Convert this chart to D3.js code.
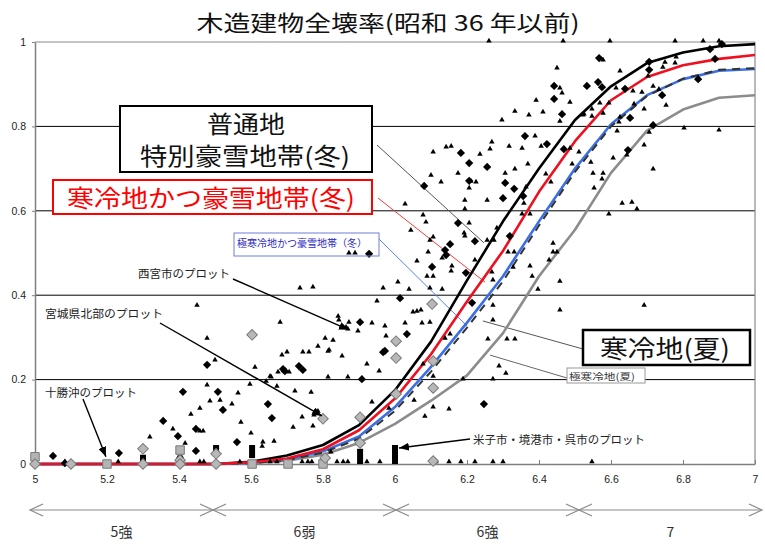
<!DOCTYPE html>
<html><head><meta charset="utf-8">
<script src="https://cdn.jsdelivr.net/npm/d3@7"></script>
<style>body{margin:0;background:#fff;} svg{display:block;}</style>
</head><body>
<script>
// ---------- data ----------
const magnitudes = [5.0,5.1,5.2,5.3,5.4,5.5,5.6,5.7,5.8,5.9,6.0,6.1,6.2,6.3,6.4,6.5,6.6,6.7,6.8,6.9,7.0];
const futsuchi      = [0,0,0,0,0,0,0.005,0.02,0.045,0.092,0.175,0.29,0.435,0.575,0.70,0.815,0.895,0.95,0.975,0.99,0.995];
const kanreiGosetsu = [0,0,0,0,0,0,0.004,0.013,0.035,0.08,0.155,0.26,0.385,0.505,0.645,0.765,0.862,0.917,0.945,0.96,0.969];
const gokanreiGosetsu=[0,0,0,0,0,0,0.003,0.01,0.03,0.065,0.135,0.23,0.335,0.445,0.575,0.70,0.805,0.874,0.912,0.932,0.936];
const kanreiNatsu   = [0,0,0,0,0,0,0.002,0.009,0.027,0.06,0.126,0.219,0.323,0.433,0.565,0.692,0.80,0.872,0.913,0.934,0.938];
const gokanreiNatsu = [0,0,0,0,0,0,0.002,0.008,0.022,0.05,0.095,0.15,0.21,0.31,0.445,0.555,0.69,0.79,0.84,0.868,0.874];

const xTicks = [5,5.2,5.4,5.6,5.8,6,6.2,6.4,6.6,6.8,7];
const xTickLabels = ["5","5.2","5.4","5.6","5.8","6","6.2","6.4","6.6","6.8","7"];
const yTicks = [0,0.2,0.4,0.6,0.8,1];
const yTickLabels = ["0","0.2","0.4","0.6","0.8","1"];
const bandEdges = [5.0,5.5,6.0,6.5,7.0];
const bandLabels = ["5強","6弱","6強","7"];

const triangles = [
[6.261,1],[6.467,1],[6.597,1],[6.778,1],[6.856,1],[6.900,1],
[6.45,0.936],[6.458,0.889],[6.464,0.877],[6.392,0.86],[6.486,0.855],[6.333,0.834],[6.372,0.825],[6.411,0.832],[6.297,0.813],[6.458,0.81],[6.522,0.825],[6.389,0.775],[6.269,0.761],[6.106,0.737],[6.142,0.749],[6.156,0.751],[6.264,0.744],[6.317,0.751],[6.353,0.746],[6.406,0.751],[6.236,0.732],[6.369,0.709],[6.333,0.697],[6.175,0.687],[6.306,0.687],[6.419,0.685],[6.486,0.746],[6.511,0.737],[6.492,0.709],[6.1,0.682],[6.128,0.666],[6.211,0.668],[6.225,0.666],[6.206,0.652],[6.364,0.654],[6.433,0.666],[6.256,0.623],[6.194,0.623],[6.028,0.614],[6.358,0.616],[6.353,0.59],[6.375,0.59],[6.078,0.588],[6.086,0.571],[6.194,0.602],[6.044,0.552],[6.206,0.569],[6.192,0.545],[6.194,0.538],[6.106,0.536],[6.097,0.528],[6.256,0.528],[6.275,0.528],[6.283,0.557],[6.092,0.5],[6.314,0.5],[6.331,0.5],[6.439,0.521],[6.439,0.5],[6.45,0.5],
[6.578,0.955],[6.625,0.929],[6.75,0.95],[6.778,0.948],[6.744,0.938],[6.781,0.962],[6.703,0.917],[6.614,0.889],[6.661,0.882],[6.717,0.893],[6.733,0.886],[6.753,0.848],[6.692,0.839],[6.664,0.851],[6.625,0.82],[6.706,0.784],[6.803,0.794],[6.9,0.789],[6.606,0.723],[6.692,0.754],[6.717,0.697],[6.544,0.713],[6.55,0.687],[6.578,0.687],[6.575,0.673],[6.686,0.879],[6.569,0.853],[6.594,0.853],[6.547,0.839],[6.525,0.827],[6.547,0.822],[6.578,0.829],[6.622,0.808],[6.617,0.787],[6.644,0.73],[6.553,0.652],[6.631,0.616],[6.658,0.618],[6.672,0.602],[6.594,0.59],
[6.131,0.486],[6.061,0.479],[6.222,0.481],[6.428,0.481],[6.158,0.467],[6.156,0.455],[6.089,0.443],[6.106,0.443],[6.269,0.453],[6.328,0.464],[6.375,0.467],[6.381,0.443],[6.458,0.431],[5.967,0.415],[6.039,0.412],[6.097,0.415],[6.131,0.412],[6.272,0.434],[6.397,0.412],[6.05,0.358],[6.061,0.36],[6.072,0.363],[6.028,0.332],[6.075,0.332],[6.097,0.334],[5.972,0.325],[6.458,0.363],[6.692,0.374],[6.272,0.374],[6.272,0.339],[5.975,0.301],[5.872,0.498],[5.889,0.498],[5.736,0.415],[5.772,0.417],[6.008,0.429],[5.95,0.384],[5.842,0.348],[5.844,0.339],[5.872,0.334],[5.897,0.313],[5.936,0.332],[5.828,0.291],[5.786,0.277],[5.817,0.268],[5.853,0.254],[5.744,0.263],[5.761,0.263],[5.922,0.235],[5.956,0.218],[5.814,0.204],[5.869,0.204],[5.722,0.171],[5.767,0.168],[6.078,0.235],[6.106,0.206],[6.139,0.296],[6.153,0.306],[5.936,0.145],[5.983,0.13],[6.053,0.149],[6.189,0.199],[6.15,0.128],[5.775,0.114],[5.717,0.085],[5.772,0.088],[5.822,0.026],[6.083,0.111],[6.106,0.133],
[6.258,0.294],[6.311,0.294],[6.333,0.294],[6.289,0.23],[6.308,0.213],[6.272,0.199],
[5.45,0.374],[5.478,0.296],[5.681,0.334],[5.5,0.244],[5.611,0.227],[5.686,0.256],[5.7,0.263],[5.675,0.216],[5.706,0.216],[5.656,0.204],[5.478,0.185],[5.514,0.149],[5.486,0.147],[5.564,0.166],[5.597,0.187],[5.672,0.182],[5.458,0.13],[5.433,0.116],[5.572,0.097],[5.458,0.076],[5.467,0.076],[5.383,0.081],[5.319,0.062],[5.633,0.05],[5.664,0.052],[5.417,0.047],[5.547,0.14],[5.6,0.071],[5.631,0.04],[5.642,0.194],[5.653,0.206],[5.786,0.123],[5.742,0.109],[5.806,0.296],[5.814,0.265],[5.869,0.318],[5.864,0.322],
[5.083,0.003],[5.231,0.003],[5.458,0.003],[5.469,0.003],[5.569,0.003],[5.653,0.003],[5.672,0.003],[5.742,0.003],[5.758,0.003],[5.769,0.003],[5.839,0.003],[5.856,0.003],[5.869,0.003],[5.922,0.003],[5.958,0.003],[6.114,0.003],[6.15,0.003],[6.183,0.003],[6.222,0.003],[6.272,0.003],[6.3,0.003],[6.547,0.003]
];
const blackDiamonds = [
[6.442,0.896],[6.442,0.865],[6.533,0.896],[6.464,0.829],[6.361,0.777],[6.422,0.758],[6.469,0.746],[6.183,0.737],[6.206,0.713],[6.256,0.704],[6.206,0.671],[6.306,0.666],[6.331,0.652],[6.081,0.659],[6.356,0.635],[6.3,0.63],[6.175,0.571],[6.153,0.521],[6.222,0.528],[6.319,0.54],[6.139,0.507],[6.142,0.495],[6.908,0.995],[6.875,0.983],[6.567,0.962],[6.706,0.953],[6.706,0.934],[6.564,0.905],[6.575,0.893],[6.639,0.889],[6.742,0.874],[6.842,0.912],[6.653,0.82],[6.717,0.803],[6.647,0.744],[6.889,0.96],[6.103,0.467],[6.197,0.453],[6.014,0.393],[6.033,0.308],[6.214,0.382],[5.928,0.498],[5.903,0.336],[5.972,0.268],[5.733,0.232],[5.744,0.223],[5.908,0.201],[6.247,0.142],[5.478,0.235],[5.689,0.225],[5.694,0.22],[5.411,0.171],[5.508,0.171],[5.647,0.142],[5.522,0.128],[5.658,0.109],[5.356,0.102],[5.447,0.083],[5.397,0.066],[5.561,0.052],[5.447,0.031],[5.233,0.026],[5.05,0.019],[5.083,0.002],[5.967,0.265],[5.403,0.014]
];
const grayDiamonds = [
[5.603,0.306],[6.103,0.379],[6.003,0.291],[6.003,0.251],[6.106,0.244],[6.003,0.166],[6.106,0.18],[5.8,0.107],[5.903,0.111],[5.903,0.05],[5.806,0.014],[6.106,0.007],[5.0,0],[5.1,0],[5.3,0.036],[5.3,0],[5.403,0.009],[5.403,0],[5.503,0.024],[5.503,0]
];
const graySquares = [[5.0,0.017],[5.2,0],[5.403,0.033],[5.603,0],[5.703,0],[5.8,0]];
const blackBars = [[5.3,0.004,0.022],[5.403,0.008,0.02],[5.503,0.026,0.045],[5.603,0.014,0.045],[5.903,0.0,0.036],[6.0,0.0,0.045]];

// ---------- chart ----------
const W = 765, H = 545;
const svg = d3.select("body").append("svg").attr("width", W).attr("height", H);
const x = d3.scaleLinear().domain([5, 7]).range([35, 755]);
const y = d3.scaleLinear().domain([0, 1]).range([464, 42]);
const jp = "'Noto Sans CJK JP','Noto Sans',sans-serif";
const lat = "'Liberation Sans',Arial,sans-serif";

svg.append("rect").attr("width", W).attr("height", H).attr("fill", "#fff");

// gridlines
svg.append("g").selectAll("line").data(yTicks.filter(v => v > 0 && v < 1)).join("line")
  .attr("x1", x(5)).attr("x2", x(7)).attr("y1", d => y(d)).attr("y2", d => y(d))
  .attr("stroke", "#000").attr("stroke-width", 1);
// frame
svg.append("line").attr("x1", x(5)).attr("x2", x(7)).attr("y1", y(1)).attr("y2", y(1)).attr("stroke", "#8a8a8a").attr("stroke-width", 1.2);
svg.append("line").attr("x1", x(7)).attr("x2", x(7)).attr("y1", y(1)).attr("y2", y(0)).attr("stroke", "#8a8a8a").attr("stroke-width", 1.2);

// axes
const xAxis = d3.axisBottom(x).tickValues(xTicks).tickFormat((d, i) => xTickLabels[i]).tickSizeInner(-4).tickSizeOuter(0).tickPadding(12);
const gx = svg.append("g").attr("transform", `translate(0,${y(0)})`).call(xAxis);
gx.select(".domain").attr("stroke", "#808080").attr("stroke-width", 1.5);
gx.selectAll(".tick line").attr("stroke", "#808080");
gx.selectAll("text").attr("font-family", lat).attr("font-size", 10.5).attr("fill", "#222");

const yAxis = d3.axisLeft(y).tickValues(yTicks).tickFormat((d, i) => yTickLabels[i]).tickSizeInner(3).tickSizeOuter(0).tickPadding(6);
const gy = svg.append("g").attr("transform", `translate(${x(5)},0)`).call(yAxis);
gy.select(".domain").attr("stroke", "#808080").attr("stroke-width", 1.5);
gy.selectAll(".tick line").attr("stroke", "#808080");
gy.selectAll("text").attr("font-family", lat).attr("font-size", 10.5).attr("fill", "#222");

// title
svg.append("text").attr("x", 388).attr("y", 31).attr("text-anchor", "middle")
  .attr("font-family", jp).attr("font-size", 22).attr("fill", "#111")
  .attr("textLength", 383).attr("lengthAdjust", "spacingAndGlyphs")
  .text("木造建物全壊率(昭和 36 年以前)");

// leader lines (from label boxes to curves)
const leaders = [
  {from: [377, 145], to: [6.247, 0.524], color: "#555"},
  {from: [378, 198], to: [6.25, 0.431], color: "#f03c3c"},
  {from: [379, 239], to: [6.2, 0.327], color: "#5a80e8"},
  {from: [583, 349], to: [6.244, 0.339], color: "#555"},
  {from: [567, 378], to: [6.264, 0.258], color: "#666"}
];
svg.append("g").selectAll("line").data(leaders).join("line")
  .attr("x1", d => d.from[0]).attr("y1", d => d.from[1])
  .attr("x2", d => x(d.to[0])).attr("y2", d => y(d.to[1]))
  .attr("stroke", d => d.color).attr("stroke-width", 1);

// curves
const series = [
  {vals: futsuchi, color: "#000", w: 2.6, dash: null},
  {vals: gokanreiNatsu, color: "#8c8c8c", w: 2.6, dash: null},
  {vals: gokanreiGosetsu, color: "#3b6fe3", w: 2.6, dash: null},
  {vals: kanreiNatsu, color: "#333", w: 2, dash: "8,6"},
  {vals: kanreiGosetsu, color: "#ee1020", w: 2.6, dash: null}
];
const line = d3.line().x((d, i) => x(magnitudes[i])).y(d => y(d));
svg.append("g").selectAll("path").data(series).join("path")
  .attr("d", d => line(d.vals)).attr("fill", "none")
  .attr("stroke", d => d.color).attr("stroke-width", d => d.w)
  .attr("stroke-dasharray", d => d.dash).attr("stroke-linejoin", "round");

// markers
const tri = d3.symbol().type(d3.symbolTriangle).size(13);
svg.append("g").selectAll("path").data(triangles).join("path")
  .attr("d", tri).attr("transform", d => `translate(${x(d[0])},${y(d[1]) - 1})`).attr("fill", "#000");

svg.append("g").selectAll("rect").data(blackBars).join("rect")
  .attr("x", d => x(d[0]) - 3).attr("width", 6)
  .attr("y", d => y(d[2])).attr("height", d => y(d[1]) - y(d[2])).attr("fill", "#000");

const sq = d3.symbol().type(d3.symbolSquare);
svg.append("g").selectAll("path").data(blackDiamonds).join("path")
  .attr("d", sq.size(34)).attr("transform", d => `translate(${x(d[0])},${y(d[1])}) rotate(45)`).attr("fill", "#000");

svg.append("g").selectAll("path").data(graySquares).join("path")
  .attr("d", d3.symbol().type(d3.symbolSquare).size(72)).attr("transform", d => `translate(${x(d[0])},${y(d[1])})`)
  .attr("fill", "#b4b4b4").attr("stroke", "#7a7a7a").attr("stroke-width", 1);

svg.append("g").selectAll("path").data(grayDiamonds).join("path")
  .attr("d", d3.symbol().type(d3.symbolSquare).size(56)).attr("transform", d => `translate(${x(d[0])},${y(d[1])}) rotate(45)`)
  .attr("fill", "#b8b8b8").attr("stroke", "#7a7a7a").attr("stroke-width", 1);

// label boxes
function box(x0, y0, x1, y1, stroke, sw, fill) {
  svg.append("rect").attr("x", x0).attr("y", y0).attr("width", x1 - x0).attr("height", y1 - y0)
    .attr("fill", fill).attr("stroke", stroke).attr("stroke-width", sw);
}
function label(tx, ty, s, size, color, len) {
  const t = svg.append("text").attr("x", tx).attr("y", ty).attr("text-anchor", "middle")
    .attr("font-family", jp).attr("font-size", size).attr("fill", color).text(s);
  if (len) t.attr("textLength", len).attr("lengthAdjust", "spacingAndGlyphs");
  return t;
}
box(120, 106, 372, 172, "#000", 2, "#fff");
label(246, 133, "普通地", 24, "#111", 78);
label(245, 165, "特別豪雪地帯(冬)", 24, "#111", 210);
box(53, 180, 372, 214, "#ff0000", 2, "#fff");
label(211, 207, "寒冷地かつ豪雪地帯(冬)", 24, "#ff0000", 288);
box(234, 233, 379, 256, "#6f7fd8", 1, "none");
label(302, 247, "極寒冷地かつ豪雪地帯（冬）", 10, "#2a2ac0", 130);
box(583, 330, 750, 365, "#000", 2.5, "#fff");
label(665, 358, "寒冷地(夏)", 25, "#111", 130);
box(567, 368, 645, 383, "#999", 1, "#fff");
label(602, 380, "極寒冷地(夏)", 9.5, "#333", 66);

// annotations with arrows
const defs = svg.append("defs");
defs.append("marker").attr("id", "ah").attr("viewBox", "0 0 10 8").attr("refX", 10).attr("refY", 4)
  .attr("markerWidth", 10).attr("markerHeight", 8).attr("markerUnits", "userSpaceOnUse").attr("orient", "auto")
  .append("path").attr("d", "M0,0 L10,4 L0,8 Z").attr("fill", "#000");
const notes = [
  {text: "西宮市のプロット", tx: 184, ty: 278, len: 92, from: [233, 279], to: [5.872, 0.318]},
  {text: "宮城県北部のプロット", tx: 104, ty: 318, len: 118, from: [160, 323], to: [5.797, 0.114]},
  {text: "十勝沖のプロット", tx: 91, ty: 397, len: 92, from: [83, 399], to: [5.197, 0.017]},
  {text: "米子市・境港市・呉市のプロット", tx: 559, ty: 444, len: 172, from: [470, 439], to: [6.011, 0.038]}
];
svg.append("g").selectAll("line").data(notes).join("line")
  .attr("x1", d => d.from[0]).attr("y1", d => d.from[1])
  .attr("x2", d => x(d.to[0])).attr("y2", d => y(d.to[1]))
  .attr("stroke", "#000").attr("stroke-width", 1.4).attr("marker-end", "url(#ah)");
notes.forEach(n => label(n.tx, n.ty, n.text, 11.5, "#222", n.len));

// seismic intensity bands
const xb = d3.scaleLinear().domain([5, 7]).range([30, 762]);
const by = 510;
const gb = svg.append("g").attr("stroke", "#8a8a8a").attr("stroke-width", 1.2).attr("fill", "none");
gb.append("line").attr("x1", xb(5)).attr("x2", xb(7)).attr("y1", by).attr("y2", by);
bandEdges.forEach((e, i) => {
  if (i < bandEdges.length - 1) gb.append("path").attr("d", `M${xb(e) + 13},${by - 6} L${xb(e)},${by} L${xb(e) + 13},${by + 6}`);
  if (i > 0) gb.append("path").attr("d", `M${xb(e) - 13},${by - 6} L${xb(e)},${by} L${xb(e) - 13},${by + 6}`);
});
svg.append("g").selectAll("text").data(bandLabels).join("text")
  .attr("x", (d, i) => xb((bandEdges[i] + bandEdges[i + 1]) / 2)).attr("y", 537)
  .attr("text-anchor", "middle").attr("font-family", jp).attr("font-size", 14).attr("fill", "#333")
  .text(d => d);
</script>
</body></html>
